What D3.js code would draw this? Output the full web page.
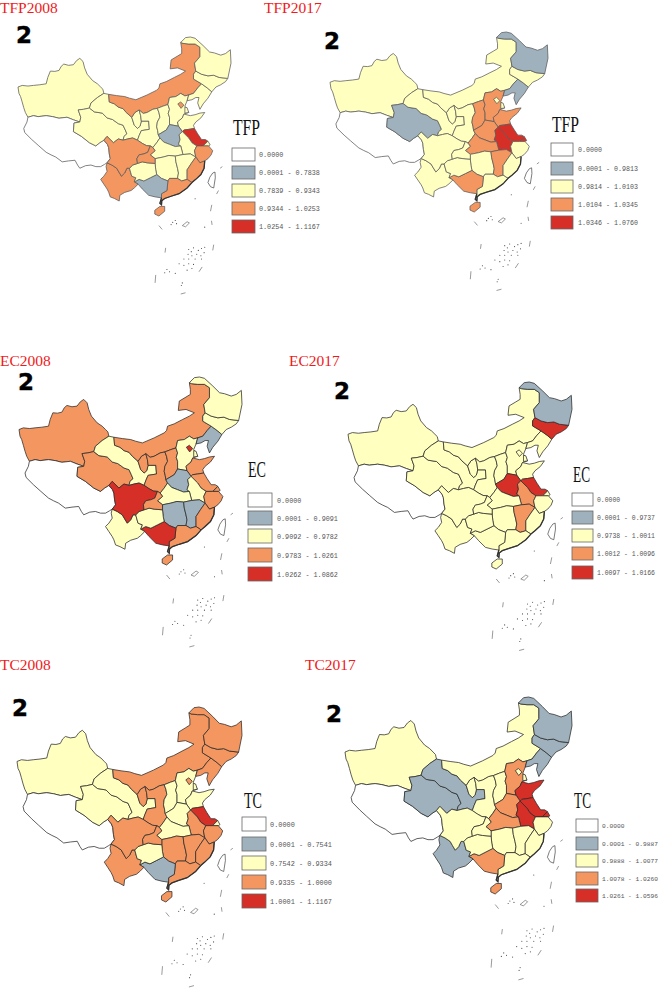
<!DOCTYPE html>
<html>
<head>
<meta charset="utf-8">
<title>TFP EC TC maps</title>
<script src="https://cdnjs.cloudflare.com/ajax/libs/d3/7.8.5/d3.min.js"></script>
<style>
	html, body { margin: 0; padding: 0; background: #fff; }
	svg { display: block; }
</style>
</head>
<body>
<div id="maps"></div>
<script>
// province order used by all the value arrays below
const provinces = ['xj','xz','qh','gs','nx','im','sn','sx','he','bj','tj','ln','jl','hlj','sd','ha','js','sh','ah','zj','hb','hn','jx','fj','gd','gx','hi','yn','gz','sc','cq']

// class of each province, 0 = no data ... 4 = top class
const tfp2008 = [2,0,2,2,2,3,2,2,2,3,2,2,2,2,2,1,4,2,2,3,2,2,2,3,3,1,3,3,2,3,3]
const tfp2017 = [2,0,1,2,2,2,2,3,3,2,2,1,2,1,3,3,4,4,4,2,3,2,3,2,2,3,3,2,2,2,2]
const ec2008  = [3,0,3,2,3,3,3,3,2,4,2,1,2,2,3,1,3,3,2,3,2,1,1,3,3,4,3,2,2,4,3]
const ec2017  = [2,0,2,2,2,2,2,2,2,2,2,2,4,1,2,4,4,2,3,2,2,2,3,2,2,2,2,2,2,2,2]
const tc2008  = [2,0,2,2,3,3,3,2,2,3,2,3,3,3,2,2,4,2,3,3,2,3,3,3,3,1,3,3,2,3,3]
const tc2017  = [2,0,1,1,2,2,2,2,3,2,2,1,1,1,4,3,4,4,4,2,3,2,2,2,2,3,3,1,2,2,2]

// legend labels
const tfp2008Labels = ['0.0000','0.0001 - 0.7838','0.7839 - 0.9343','0.9344 - 1.0253','1.0254 - 1.1167']
const tfp2017Labels = ['0.0000','0.0001 - 0.9813','0.9814 - 1.0103','1.0104 - 1.0345','1.0346 - 1.0760']
const ec2008Labels  = ['0.0000','0.0001 - 0.9091','0.9092 - 0.9782','0.9783 - 1.0261','1.0262 - 1.0862']
const ec2017Labels  = ['0.0000','0.0001 - 0.9737','0.9738 - 1.0011','1.0012 - 1.0096','1.0097 - 1.0166']
const tc2008Labels  = ['0.0000','0.0001 - 0.7541','0.7542 - 0.9334','0.9335 - 1.0000','1.0001 - 1.1167']
const tc2017Labels  = ['0.0000','0.0001 - 0.9887','0.9888 - 1.0077','1.0078 - 1.0260','1.0261 - 1.0596']

const classColors = ['#ffffff','#9fb1bd','#ffffbf','#f3965f','#d62f27']

// base map outlines in map units (x east, y south), shared borders kept once
const arcs = {
	xjOut: [[88,360],[80,345],[75,330],[70,312],[65,295],[60,285],[57,265],[70,260],[88,262],[105,260],[125,258],[145,255],[150,235],[158,215],[172,216],[185,213],[192,200],[200,193],[215,197],[230,195],[240,182],[250,175],[260,185],[265,205],[273,225],[290,245],[305,255],[315,265],[322,272],[325,285]],
	xjGs: [[325,285],[305,298],[285,315],[280,331]],
	xjQh: [[280,331],[262,335],[245,337],[253,360],[250,375]],
	xjXz: [[250,375],[230,368],[210,360],[185,363],[165,358],[145,355],[120,358],[105,355],[88,360]],
	xzOut: [[88,360],[85,375],[75,395],[78,408],[100,430],[120,448],[145,470],[160,478],[175,485],[195,500],[215,497],[235,495],[243,510],[250,520],[268,512],[285,510],[300,515],[315,515],[327,508],[335,503]],
	xzQh: [[250,375],[232,378],[230,405],[255,420],[280,440],[300,450],[312,440],[325,432]],
	xzSc: [[325,432],[336,445],[340,455],[342,475],[345,490],[335,503]],
	qhGs: [[280,331],[295,343],[320,347],[335,362],[352,367],[370,380],[385,385],[392,400],[397,412],[388,420],[385,432]],
	qhSc: [[385,432],[370,428],[355,440],[335,420],[325,432]],
	gsOut: [[325,285],[340,288]],
	imGs: [[340,288],[342,312],[358,318],[370,328],[385,333],[395,345],[412,360]],
	nxGs: [[412,360],[420,385],[430,395],[438,388],[442,372]],
	gsSn: [[442,372],[465,372],[467,398],[442,402],[435,418],[430,432]],
	gsSc: [[430,432],[415,425],[400,428],[385,432]],
	imNx: [[412,360],[422,345],[435,337]],
	nxSn: [[435,337],[440,355],[442,372]],
	imSn: [[435,337],[448,348],[460,345],[478,335],[492,332]],
	snSx: [[492,332],[497,345],[500,360],[492,375],[490,390],[493,402],[495,415]],
	snHa: [[495,415],[500,425]],
	snHb: [[500,425],[490,440],[478,455]],
	snCq: [[478,455],[470,450]],
	snSc: [[470,450],[458,449],[445,442],[430,432]],
	imSx: [[492,332],[510,325],[525,320]],
	sxHe: [[525,320],[530,335],[526,348],[530,360],[530,383]],
	sxHa: [[530,383],[520,400],[495,415]],
	imHe: [[525,320],[530,298],[550,295],[565,285],[578,293],[590,290]],
	heLn: [[590,290],[585,308]],
	heCoast: [[585,308],[578,325],[590,345],[575,350]],
	heSd: [[575,350],[570,362],[555,375],[558,388]],
	heHa: [[558,388],[530,383]],
	sdCoast: [[575,350],[595,355],[610,352],[625,347],[640,345],[628,362],[612,375],[605,385],[608,395]],
	sdJs: [[608,395],[590,398],[575,400],[570,405]],
	sdHa: [[570,405],[558,388]],
	haAh: [[570,405],[560,415],[563,430],[558,445],[565,450]],
	haHb: [[565,450],[548,452],[530,445],[512,438],[500,425]],
	jsCoast: [[608,395],[618,412],[630,430],[642,430],[650,435]],
	jsSh: [[650,435],[635,450]],
	jsZj: [[635,450],[615,450]],
	jsAh: [[615,450],[600,440],[590,425],[570,405]],
	ahZj: [[615,450],[608,465],[612,485]],
	ahJx: [[612,485],[595,475],[572,477]],
	ahHb: [[572,477],[565,450]],
	shCoast: [[650,435],[657,447],[652,450]],
	shZj: [[652,450],[635,450]],
	zjCoast: [[652,450],[665,465],[660,478],[650,490],[640,497]],
	zjFj: [[640,497],[625,503],[612,485]],
	fjCoast: [[640,497],[638,520],[628,540],[612,555],[600,565]],
	fjGd: [[600,565],[585,555]],
	fjJx: [[585,555],[585,525],[598,505],[612,485]],
	jxGd: [[585,555],[568,560],[555,552]],
	jxHn: [[555,552],[558,535],[555,520],[550,500],[548,482]],
	jxHb: [[548,482],[572,477]],
	hbHn: [[548,482],[528,480],[510,485],[485,490]],
	hbCq: [[485,490],[470,478],[485,465],[478,455]],
	hnGd: [[555,552],[530,552],[525,560]],
	hnGx: [[525,560],[505,552],[490,540]],
	hnGz: [[490,540],[487,525],[485,505]],
	hnCq: [[485,505],[485,490]],
	gdCoast: [[600,565],[585,582],[560,600],[535,608],[515,615],[506,622],[505,635],[500,630],[505,613]],
	gdGx: [[505,613],[505,600],[522,590],[525,560]],
	gxCoast: [[505,613],[485,610],[465,605],[445,585],[432,570]],
	gxYn: [[432,570],[420,563]],
	gxGz: [[420,563],[435,555],[450,560],[470,550],[490,540]],
	gzYn: [[420,563],[425,550],[412,545],[405,520]],
	gzSc: [[405,520],[415,510],[430,505]],
	gzCq: [[430,505],[445,500],[460,503],[485,505]],
	cqSc: [[430,505],[428,490],[435,478],[450,475],[462,470],[470,450]],
	ynSc: [[405,520],[397,520],[390,535],[380,545],[372,532],[365,520],[350,510],[335,503]],
	ynOut: [[432,570],[420,582],[410,590],[390,596],[375,605],[373,623],[358,615],[345,610],[340,595],[335,585],[325,570],[315,555],[325,545],[335,530],[332,515],[335,503]],
	imOut: [[565,125],[568,145],[568,160],[555,168],[535,180],[532,208],[555,205],[580,215],[565,225],[545,235],[520,248],[500,255],[497,268],[490,275],[460,290],[425,305],[405,300],[390,295],[365,292],[340,288]],
	imLn: [[590,290],[605,285],[618,268],[630,255]],
	imJl: [[630,255],[605,240],[605,225],[612,215]],
	imHlj: [[612,215],[608,190],[625,170],[625,140],[610,130],[590,130],[572,128],[565,125]],
	hljJl: [[612,215],[630,225],[650,230],[668,228],[685,235],[712,238]],
	hljOut: [[712,238],[722,190],[720,148],[705,160],[690,165],[670,158],[655,155],[635,135],[610,112],[595,108],[580,110],[565,125]],
	jlOut: [[662,280],[675,265],[690,258],[705,248],[712,238]],
	jlLn: [[662,280],[648,268],[630,255]],
	lnCoast: [[585,308],[600,305],[612,298],[622,298],[618,315],[625,335],[635,318],[650,300],[662,280]]
}

// ring of each province as a chain of arcs, a leading - walks the arc backwards
const provinceRings = {
	xj: ['xjOut','xjGs','xjQh','xjXz'],
	xz: ['-xjXz','xzQh','xzSc','-xzOut'],
	qh: ['-xjQh','qhGs','qhSc','-xzQh'],
	gs: ['gsOut','imGs','nxGs','gsSn','gsSc','-qhGs','-xjGs'],
	nx: ['imNx','nxSn','-nxGs'],
	im: ['imOut','imGs','imNx','imSn','imSx','imHe','imLn','imJl','imHlj'],
	sn: ['imSn','snSx','snHa','snHb','snCq','snSc','-gsSn','-nxSn'],
	sx: ['imSx','sxHe','sxHa','-snSx'],
	he: ['imHe','heLn','heCoast','heSd','heHa','-sxHe'],
	ln: ['-imLn','heLn','lnCoast','-jlLn'],
	jl: ['-imJl','-jlLn','jlOut','-hljJl'],
	hlj: ['-imHlj','hljJl','hljOut'],
	sd: ['-heSd','sdCoast','sdJs','sdHa'],
	ha: ['-sxHa','-heHa','-sdHa','haAh','haHb','-snHa'],
	js: ['-sdJs','jsCoast','jsSh','jsZj','jsAh'],
	sh: ['-jsSh','shCoast','shZj'],
	ah: ['-jsAh','ahZj','ahJx','ahHb','-haAh'],
	zj: ['-jsZj','-shZj','zjCoast','zjFj','-ahZj'],
	hb: ['-snHb','-haHb','-ahHb','-jxHb','hbHn','hbCq'],
	hn: ['-hbHn','-jxHn','hnGd','hnGx','hnGz','hnCq'],
	jx: ['-ahJx','-fjJx','jxGd','jxHn','jxHb'],
	fj: ['-zjFj','fjCoast','fjGd','fjJx'],
	gd: ['-jxGd','-fjGd','gdCoast','gdGx','-hnGd'],
	gx: ['-hnGx','-gdGx','gxCoast','gxYn','gxGz'],
	yn: ['-ynSc','-gzYn','-gxYn','ynOut'],
	gz: ['-gxGz','gzYn','gzSc','gzCq','-hnGz'],
	sc: ['-snSc','-cqSc','-gzSc','ynSc','-xzSc','-qhSc','-gsSc'],
	cq: ['-snCq','-hbCq','-hnCq','-gzCq','cqSc']
}

// small provinces with no shared arc
const looseRings = {
	bj: [[556,318],[565,312],[575,322],[566,332]],
	tj: [[578,328],[585,330],[590,345],[578,347]],
	hi: [[484,652],[500,640],[515,640],[515,655],[497,670],[484,664]]
}

const taiwan = [[665,535],[672,532],[673,550],[668,582],[658,578],[650,565],[656,548]]
const seaIsland = [[570,700],[585,688],[592,692],[580,704]]
const seaDashes = [
	[[683,590],[677,601]],[[662,635],[658,655]],[[661,685],[663,698]],[[668,760],[665,778]],
	[[518,770],[516,785]],[[487,855],[485,880]],[[565,915],[580,911]],[[497,700],[507,712]],
	[[632,830],[622,845]],[[695,515],[688,520]]
]
const seaDots = [
	[540,690],[548,684],[535,697],[552,694],[610,616],[640,705],[590,775],[598,782],[605,770],[620,778],
	[630,772],[640,768],[588,790],[600,795],[615,790],[628,795],[638,785],[575,805],[590,805],[610,805],
	[630,805],[560,820],[575,825],[590,820],[605,822],[522,838],[530,845],[515,848],[548,850],[585,840],
	[600,835],[570,880],[567,888]
]

// one entry per panel: frame of the map on the page and its legend spot
const panels = [
	{values: tfp2008, labels: tfp2008Labels, name: 'TFP', title: 'TFP2008', titleX: 0, titleY: 13, numX: 16, numY: 43, line: '#5a5a5a',
		x: [18,231], y: [37,216], legX: 232, legY: [148,166,184,202,220], legW: 23, legH: 13, legLabelX: 259, legLabelW: 61, nameX: 233, nameY: 135, nameW: 27},
	{values: tfp2017, labels: tfp2017Labels, name: 'TFP', title: 'TFP2017', titleX: 264, titleY: 13, numX: 324, numY: 49, line: '#5a5a5a',
		x: [330,548], y: [32,212], legX: 551, legY: [143,162,180,198,216], legW: 22, legH: 13, legLabelX: 578, legLabelW: 60, nameX: 552, nameY: 132, nameW: 27},
	{values: ec2008, labels: ec2008Labels, name: 'EC', title: 'EC2008', titleX: 0, titleY: 366, numX: 18, numY: 390, line: '#2a2a2a',
		x: [19,242], y: [377,565], legX: 248, legY: [493,511,529,548,567], legW: 24, legH: 14, legLabelX: 277, legLabelW: 61, nameX: 248, nameY: 477, nameW: 18},
	{values: ec2017, labels: ec2017Labels, name: 'EC', title: 'EC2017', titleX: 289, titleY: 366, numX: 334, numY: 399, line: '#2a2a2a',
		x: [348,572], y: [382,569], legX: 572, legY: [493,511,529,547,566], legW: 21, legH: 13, legLabelX: 597, legLabelW: 58, nameX: 573, nameY: 482, nameW: 17},
	{values: tc2008, labels: tc2008Labels, name: 'TC', title: 'TC2008', titleX: 0, titleY: 670, numX: 12, numY: 716, line: '#2a2a2a',
		x: [17,242], y: [707,902], legX: 242, legY: [817,837,856,875,894], legW: 24, legH: 14, legLabelX: 270, legLabelW: 62, nameX: 244, nameY: 808, nameW: 18},
	{values: tc2017, labels: tc2017Labels, name: 'TC', title: 'TC2017', titleX: 305, titleY: 670, numX: 326, numY: 722, line: '#2a2a2a',
		x: [345,572], y: [697,894], legX: 576, legY: [819,837,854,872,889], legW: 22, legH: 13, legLabelX: 602, legLabelW: 56, nameX: 574, nameY: 808, nameW: 17}
]

const width = 659, height = 992

function arcPoints(ref) {
	if (ref[0] === '-') return arcs[ref.slice(1)].slice().reverse()
	return arcs[ref]
}

function ringOf(refs) {
	let ring = []
	refs.forEach(ref => {
		let pts = arcPoints(ref)
		ring = ring.concat(ring.length ? pts.slice(1) : pts)
	})
	return ring
}

function provinceFeature(id) {
	let ring = looseRings[id] ? looseRings[id].concat([looseRings[id][0]]) : ringOf(provinceRings[id])
	return {type: 'Feature', id: id, geometry: {type: 'Polygon', coordinates: [ring]}}
}

let svg = d3.select('#maps').append('svg')
	.attr('width', width)
	.attr('height', height)
	.attr('viewBox', `0 0 ${width} ${height}`)

let features = provinces.map(provinceFeature)
let coast = {type: 'MultiLineString', coordinates: ['fjCoast','gdCoast'].map(k => arcs[k])}
let dashes = {type: 'MultiLineString', coordinates: seaDashes}
let closed = r => ({type: 'Polygon', coordinates: [r.concat([r[0]])]})

panels.forEach(p => {
	let sx = d3.scaleLinear().domain([57,722]).range(p.x)
	let sy = d3.scaleLinear().domain([108,670]).range(p.y)
	let path = d3.geoPath(d3.geoTransform({
		point: function(x, y) { this.stream.point(sx(x), sy(y)) }
	}))
	let color = d3.scaleOrdinal().domain([0,1,2,3,4]).range(classColors)

	let g = svg.append('g').attr('class', 'panel')

	g.append('text')
		.attr('x', p.titleX)
		.attr('y', p.titleY)
		.attr('font-family', 'Liberation Serif')
		.attr('font-size', 15.5)
		.attr('fill', '#f01a1a')
		.text(p.title)

	g.append('text')
		.attr('x', p.numX)
		.attr('y', p.numY)
		.attr('font-family', 'DejaVu Sans')
		.attr('font-weight', 'bold')
		.attr('font-size', 23)
		.attr('stroke', '#000')
		.attr('stroke-width', 0.4)
		.attr('fill', '#000')
		.text('2')

	let map = g.append('g')

	// enclaves come after Hebei in the province order, so they sit on top of it
	map.selectAll('path.province')
		.data(features)
		.enter()
			.append('path')
			.classed('province', true)
			.attr('d', path)
			.attr('fill', (d, i) => color(p.values[i]))
			.attr('stroke', p.line)
			.attr('stroke-width', 0.75)
			.attr('stroke-linejoin', 'round')

	// south east coast reads heavier because of the small islands along it
	map.append('path')
		.attr('d', path(coast))
		.attr('fill', 'none')
		.attr('stroke', '#333')
		.attr('stroke-width', 1.3)

	map.append('path')
		.attr('d', path(closed(taiwan)))
		.attr('fill', '#fff')
		.attr('stroke', '#444')
		.attr('stroke-width', 0.7)

	map.append('path')
		.attr('d', path(closed(seaIsland)))
		.attr('fill', '#fff')
		.attr('stroke', '#555')
		.attr('stroke-width', 0.6)

	map.append('path')
		.attr('d', path(dashes))
		.attr('fill', 'none')
		.attr('stroke', '#555')
		.attr('stroke-width', 0.6)

	map.selectAll('circle.dot')
		.data(seaDots)
		.enter()
			.append('circle')
			.classed('dot', true)
			.attr('cx', d => sx(d[0]))
			.attr('cy', d => sy(d[1]))
			.attr('r', 0.55)
			.attr('fill', '#444')

	// legend
	let legend = g.append('g')

	legend.append('text')
		.attr('x', p.nameX)
		.attr('y', p.nameY)
		.attr('font-family', 'Liberation Serif')
		.attr('font-size', 23)
		.attr('textLength', p.nameW)
		.attr('lengthAdjust', 'spacingAndGlyphs')
		.attr('fill', '#111')
		.text(p.name)

	legend.selectAll('rect')
		.data(classColors)
		.enter()
			.append('rect')
			.attr('x', p.legX)
			.attr('y', (d, i) => p.legY[i])
			.attr('width', p.legW)
			.attr('height', p.legH)
			.attr('fill', d => d)
			.attr('stroke', '#666')
			.attr('stroke-width', 0.8)

	legend.selectAll('text.label')
		.data(p.labels)
		.enter()
			.append('text')
			.classed('label', true)
			.attr('x', p.legLabelX)
			.attr('y', (d, i) => p.legY[i] + p.legH / 2 + 2.5)
			.attr('font-family', 'Liberation Mono')
			.attr('font-size', p.legLabelW / 15 / 0.6)
			.attr('fill', '#555')
			.text(d => d)
})
</script>
</body>
</html>
